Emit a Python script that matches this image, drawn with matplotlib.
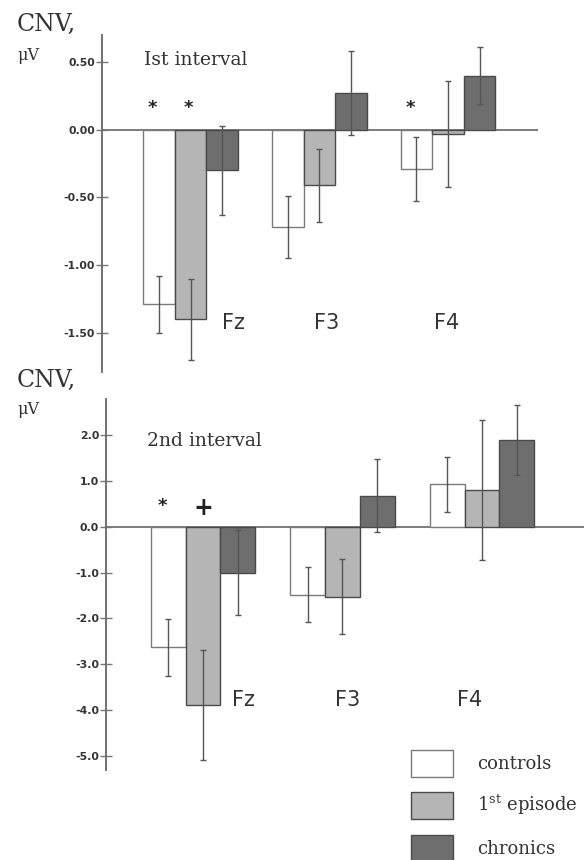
import matplotlib
matplotlib.use("Agg")
import matplotlib.pyplot as plt
import numpy as np

plt.rcParams['axes.unicode_minus'] = False
plt.rcParams['mathtext.fontset'] = 'dejavuserif'

# dados
eletrodos = ["Fz", "F3", "F4"]
grupos = ["controls", "1$^{\\mathrm{st}}$ episode", "chronics"]

int1_medias = {
    "controls": [-1.29, -0.72, -0.29],
    "1st": [-1.40, -0.41, -0.03],
    "chronics": [-0.30, 0.27, 0.40],
}
int1_erros = {
    "controls": [0.21, 0.23, 0.235],
    "1st": [0.30, 0.27, 0.39],
    "chronics": [0.33, 0.31, 0.21],
}
int2_medias = {
    "controls": [-2.63, -1.49, 0.93],
    "1st": [-3.89, -1.53, 0.80],
    "chronics": [-1.00, 0.68, 1.89],
}
int2_erros = {
    "controls": [0.62, 0.60, 0.60],
    "1st": [1.20, 0.82, 1.52],
    "chronics": [0.92, 0.80, 0.77],
}

int1_ticks = [0.50, 0.00, -0.50, -1.00, -1.50]
int2_ticks = [2.0, 1.0, 0.0, -1.0, -2.0, -3.0, -4.0, -5.0]

cores = {"controls": "white", "1st": "#b5b5b5", "chronics": "#6e6e6e"}
bordas = {"controls": "#7a7a7a", "1st": "#4a4a4a", "chronics": "#4a4a4a"}
chaves = ["controls", "1st", "chronics"]

W, H = 584, 860
fig = plt.figure(figsize=(W / 100, H / 100), dpi=100)


def painel(rect, medias, erros, largura, ylim, ticks, fmt):
    ax = fig.add_axes(rect)
    x = np.arange(len(eletrodos))
    barras = []
    for k, chave in enumerate(chaves):
        pos = x + (k - 1) * largura
        b = ax.bar(pos, medias[chave], width=largura, color=cores[chave],
                   edgecolor=bordas[chave], linewidth=1.0, zorder=2)
        ax.errorbar(pos, medias[chave], yerr=erros[chave], fmt='none',
                    ecolor="#555555", elinewidth=1.0, capsize=2.2, capthick=1.0, zorder=3)
        barras.append(b)
    ax.axhline(0, color="#666666", lw=1.2, zorder=1)
    ax.set_ylim(*ylim)
    ax.set_yticks(ticks)
    ax.set_yticklabels([fmt.format(t) for t in ticks], fontsize=7.8,
                       fontweight='bold', color="#333333")
    ax.tick_params(axis='y', direction='inout', length=8, width=1.0,
                   color="#777777", pad=1)
    ax.set_xticks([])
    for s in ["top", "right", "bottom"]:
        ax.spines[s].set_visible(False)
    ax.spines["left"].set_color("#666666")
    ax.spines["left"].set_linewidth(1.3)
    ax.patch.set_alpha(0)
    return ax, barras


# ---------------- 1o intervalo ----------------
larg1 = 0.2455
ax1, _ = painel([102 / W, 1 - 372 / H, (538 - 102) / W, (372 - 35) / H],
                int1_medias, int1_erros, larg1, (-1.79, 0.70), int1_ticks, "{:.2f}")
ax1.set_xlim(-0.689, 2.699)
ax1.text(-0.363, 0.515, "Ist interval", fontsize=13.5, family="DejaVu Serif",
         color="#333333", va='center', ha='left')
for xs, ys in [(-larg1 - 0.05, 0.16), (-0.02, 0.16), (2 - larg1 - 0.05, 0.16)]:
    ax1.text(xs, ys, "*", fontsize=13, fontweight='bold', ha='center', va='center',
             color="#222222")
for i, (dx, nome) in enumerate(zip([0.33, 0.06, -0.01], eletrodos)):
    ax1.text(i + dx, -1.43, nome, fontsize=15, ha='center', va='center', color="#333333")

# ---------------- 2o intervalo ----------------
larg2 = 0.249
ax2, barras = painel([106 / W, 1 - 770 / H, (584 - 106) / W, (770 - 399.3) / H],
                     int2_medias, int2_erros, larg2, (-5.31, 2.78), int2_ticks, "{:.1f}")
ax2.set_xlim(-0.695, 2.731)
ax2.text(-0.40, 1.87, "2nd interval", fontsize=13.5, family="DejaVu Serif",
         color="#333333", va='center', ha='left')
ax2.text(-larg2 - 0.04, 0.45, "*", fontsize=13, fontweight='bold', ha='center',
         va='center', color="#222222")
ax2.text(0.0, 0.41, "+", fontsize=17, fontweight='bold', ha='center', va='center', color="#222222")
for i, (dx, nome) in enumerate(zip([0.29, 0.04, -0.09], eletrodos)):
    ax2.text(i + dx, -3.78, nome, fontsize=15, ha='center', va='center', color="#333333")

# rótulos do eixo y
for yc, ym in [(24, 55), (380, 410)]:
    fig.text(17 / W, 1 - yc / H, "CNV,", fontsize=17, family="DejaVu Serif",
             color="#333333", va='center', ha='left')
    fig.text(17 / W, 1 - ym / H, "\u03bcV", fontsize=11.5, family="DejaVu Serif",
             color="#333333", va='center', ha='left')

# legenda
fig.legend(barras, grupos, loc='upper left', bbox_to_anchor=(411 / W, 1 - 750 / H),
           frameon=False, borderpad=0, borderaxespad=0, handlelength=2.35,
           handleheight=1.9, labelspacing=0.86, handletextpad=1.3,
           prop={'family': 'DejaVu Serif', 'size': 13}, labelcolor="#333333")

fig.savefig("out.png", dpi=100)
